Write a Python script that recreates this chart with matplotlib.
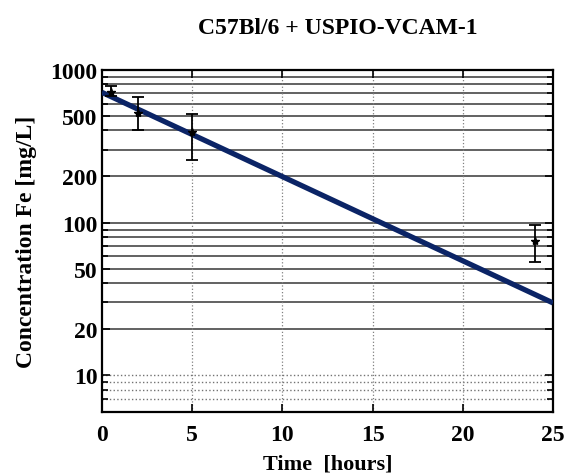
import numpy as np
import matplotlib.pyplot as plt
from matplotlib.ticker import FixedLocator, NullFormatter

# measured data (time in hours, Fe concentration in mg/L)
t_meas = [0.5, 2, 5, 24]
c_meas = [710, 524, 388, 76]
c_low = [668, 404, 258, 55]
c_high = [776, 665, 511, 97]

# fitted mono-exponential (straight on log axis), end points
t_fit = [0, 25]
c_fit = [710, 29.8]

yticks = [10, 20, 50, 100, 200, 500, 1000]
solid_grid = [20, 30, 40, 50, 60, 70, 80, 90, 100, 200, 300, 400, 500, 600, 700, 800, 900]
dotted_grid = [7, 8, 9, 10]
xticks = [0, 5, 10, 15, 20, 25]

plt.rcParams['font.family'] = ['Liberation Serif', 'DejaVu Serif']
plt.rcParams['font.weight'] = 'bold'

fig = plt.figure(figsize=(5.66, 4.77), dpi=100)
ax = fig.add_axes([0.180, 0.135, 0.797, 0.717])
ax.set_yscale('log')
ax.set_xlim(0, 25)
ax.set_ylim(5.8, 1000)

for g in solid_grid:
    ax.axhline(g, color='0.28', lw=1.2, zorder=1)
for g in dotted_grid:
    ax.axhline(g, color='0.45', lw=1.0, ls=':', zorder=1)
for g in xticks[1:-1]:
    ax.axvline(g, color='0.5', lw=0.9, ls=':', zorder=1)

ax.plot(t_fit, c_fit, color='#0b2466', lw=3.8, zorder=3, solid_capstyle='butt')
err = [np.array(c_meas) - np.array(c_low), np.array(c_high) - np.array(c_meas)]
ax.errorbar(t_meas, c_meas, yerr=err, fmt='*', color='black', ms=6,
            capsize=4, elinewidth=1.3, capthick=1.3, zorder=4)

ax.yaxis.set_major_locator(FixedLocator(yticks))
ax.set_yticklabels([str(v) for v in yticks])
ax.yaxis.set_minor_locator(FixedLocator(dotted_grid + solid_grid))
ax.yaxis.set_minor_formatter(NullFormatter())
ax.set_xticks(xticks)
ax.tick_params(which='both', direction='in', top=True, right=True,
               labelsize=17, width=1.2)
ax.tick_params(which='major', length=6)
ax.tick_params(which='minor', length=4)
ax.tick_params(axis='x', pad=9)
ax.tick_params(axis='y', pad=3)
for s in ax.spines.values():
    s.set_linewidth(1.6)

ax.set_xlabel('Time  [hours]', fontsize=16, fontweight='bold', labelpad=6)
ax.set_ylabel('Concentration Fe [mg/L]', fontsize=17, fontweight='bold', labelpad=10)
fig.text(0.597, 0.94, 'C57Bl/6 + USPIO-VCAM-1', ha='center', va='center',
         fontsize=17, fontweight='bold')

fig.savefig('out.png', dpi=100)
